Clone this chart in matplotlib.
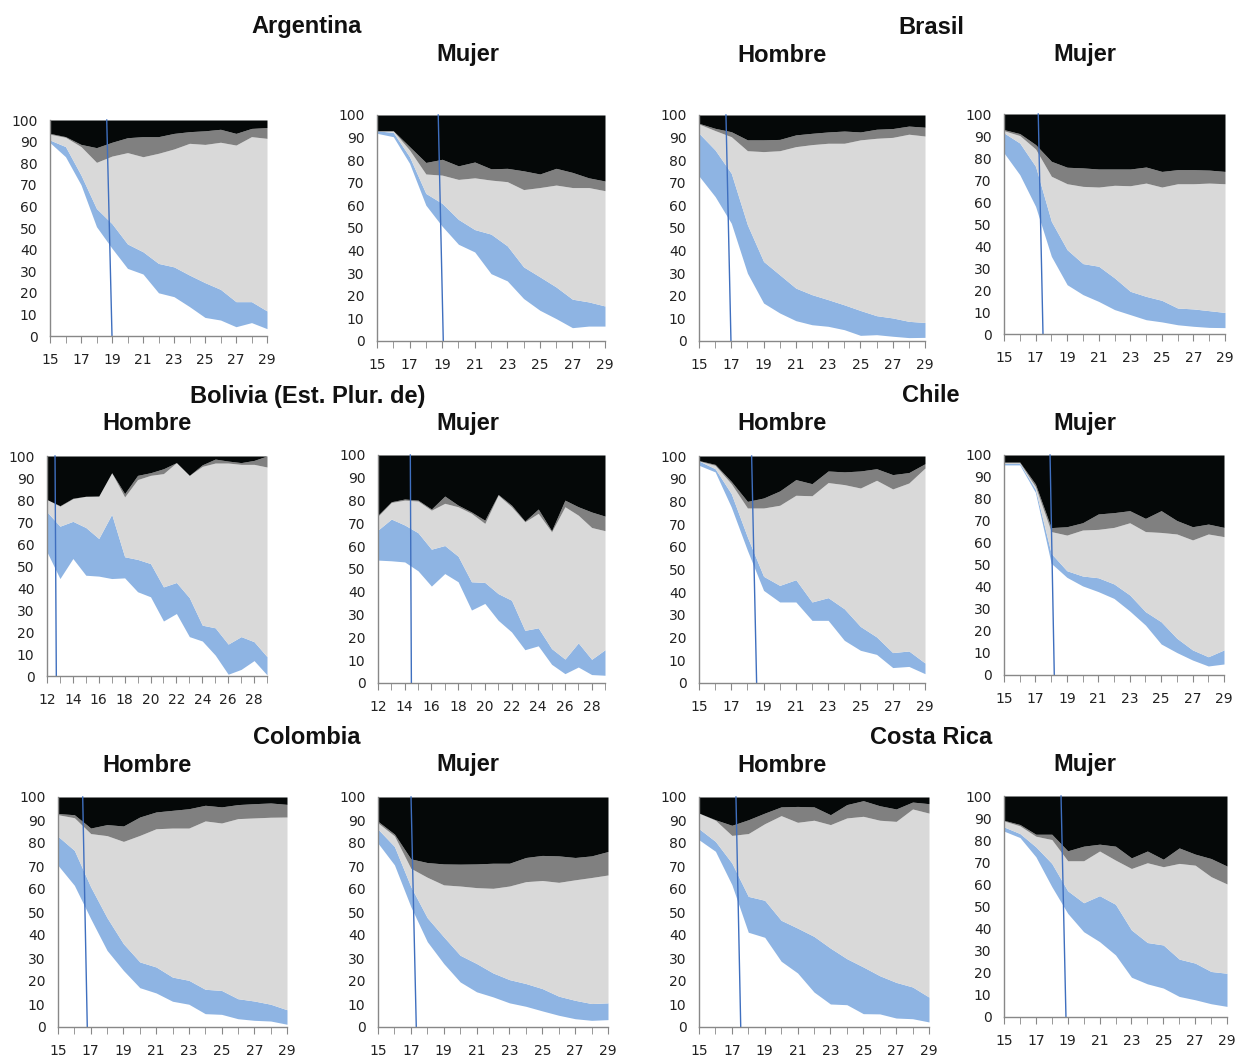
import matplotlib
matplotlib.use("Agg")
import matplotlib.pyplot as plt

# ---------------- data ----------------
ages_15 = list(range(15, 30))
ages_12 = list(range(12, 30))
ticks_15 = [15, 17, 19, 21, 23, 25, 27, 29]
ticks_12 = [12, 14, 16, 18, 20, 22, 24, 26, 28]

# boundaries: b1 = top of white, b2 = top of blue, b3 = top of light gray, b4 = top of dark gray
arg_h_b1 = [89.5, 83, 70, 50.6, 40.6, 31.3, 28.7, 20, 18.2, 13.6, 8.6, 7.4, 4.3, 6.2, 3.4]
arg_h_b2 = [90.7, 87.7, 74.5, 59, 52, 42.6, 39, 33.6, 32, 28.2, 24.7, 21.6, 15.9, 15.9, 11.6]
arg_h_b3 = [93.4, 92, 87.7, 80.4, 83.3, 84.9, 83, 84.6, 86.6, 89.2, 88.7, 89.7, 88.4, 92.3, 91.5]
arg_h_b4 = [93.8, 92.3, 88.7, 87.2, 89.7, 91.8, 92.3, 92.3, 93.8, 94.6, 95, 95.7, 93.8, 96.1, 96.5]

arg_m_b1 = [91.9, 90.4, 78.6, 60.1, 50.8, 42.8, 39.4, 29.8, 26.6, 18.8, 13.6, 9.9, 5.9, 6.6, 6.6]
arg_m_b2 = [93, 92.3, 81.5, 65.3, 60.9, 53.8, 49.3, 47.3, 42.1, 32.8, 28.4, 23.9, 18.5, 17.3, 15.5]
arg_m_b3 = [93, 93, 84.5, 73.9, 73.4, 71.5, 72.2, 71.2, 70.5, 67, 67.9, 69, 67.9, 67.9, 66.5]
arg_m_b4 = [93, 93, 86, 79, 80.4, 77.5, 79.2, 76.2, 76.4, 75.3, 73.9, 76.4, 74.6, 72.2, 70.8]

bra_h_b1 = [73, 63.9, 52.1, 30, 16.8, 12.4, 9, 7.2, 6.5, 5, 2.5, 2.8, 2.1, 1.5, 1.6]
bra_h_b2 = [91.9, 84.5, 74.2, 51.4, 35.2, 29.3, 23.4, 20.5, 18.3, 16, 13.5, 11.2, 10.2, 8.7, 8.2]
bra_h_b3 = [96, 93.1, 90.4, 84.2, 83.8, 84.2, 86, 86.9, 87.5, 87.5, 89, 89.7, 90.1, 91.5, 90.7]
bra_h_b4 = [96.3, 94.1, 92.6, 89, 89, 89.2, 91.2, 91.9, 92.5, 92.9, 92.5, 93.7, 94, 95.1, 94.6]

bra_m_b1 = [82.3, 72.4, 58, 35.3, 22.4, 17.9, 14.8, 11.1, 8.8, 6.5, 5.5, 4.2, 3.5, 3, 2.9]
bra_m_b2 = [91.4, 86.8, 76.2, 51.2, 38.3, 32, 30.8, 25.5, 19.4, 17.1, 15.3, 11.8, 11.4, 10.6, 9.8]
bra_m_b3 = [92.4, 90.2, 84.1, 71.7, 68.3, 67.1, 66.8, 67.6, 67.4, 68.6, 66.8, 68.3, 68.3, 68.6, 68.3]
bra_m_b4 = [92.9, 91.1, 86.1, 78.5, 75.8, 75.5, 75, 75, 75, 75.9, 73.9, 74.7, 74.7, 74.5, 73.9]

bol_h_b1 = [56.4, 44.3, 53.4, 45.8, 45.4, 44.3, 44.6, 38.3, 36, 25, 28.4, 17.9, 15.9, 9.5, 0.8, 3, 7, 0.5]
bol_h_b2 = [74.6, 68.1, 70.3, 67.5, 62.5, 73.5, 54.2, 53, 51.1, 40.5, 42.5, 35.6, 23.1, 21.9, 14.5, 17.9, 15.6, 8.8]
bol_h_b3 = [80.2, 77.2, 80.6, 81.7, 81.8, 92.4, 81.4, 89.3, 91.2, 92, 97, 91.2, 95.3, 96.8, 96.8, 96.2, 96.2, 95]
bol_h_b4 = [80.2, 77.4, 80.8, 81.7, 81.8, 92.4, 82.9, 91.2, 92.4, 94.2, 97, 91.2, 96, 98.6, 97.7, 97, 98, 100]

bol_m_b1 = [53.9, 53.6, 53.1, 49.2, 42.5, 48, 44.4, 32, 34.9, 27.5, 22.4, 14.6, 16.3, 8.2, 4.1, 7, 3.7, 3.4]
bol_m_b2 = [67.1, 71.9, 69.3, 65.9, 58.7, 60.3, 55.6, 44.4, 44.1, 39.2, 36.3, 23.1, 24.2, 15.1, 10.5, 17.6, 10.4, 14.6]
bol_m_b3 = [73.2, 79.2, 80.2, 79.8, 75.8, 78.8, 77.3, 74.4, 70, 82.4, 77.3, 70.7, 74.4, 66.3, 77.3, 73.6, 68.2, 66.8]
bol_m_b4 = [73.6, 79.5, 80.7, 80.2, 76.3, 82, 78, 75, 71.4, 82.7, 78, 71, 76.3, 66.8, 80.2, 77.3, 75, 73.2]

chi_h_b1 = [95.9, 93, 77.5, 58.4, 40.8, 35.7, 35.7, 27.6, 27.6, 18.8, 14.4, 12.6, 6.8, 7.3, 4.1]
chi_h_b2 = [97.8, 94.4, 83.4, 64.3, 47, 43, 45.5, 35.7, 37.6, 32.7, 24.9, 20.3, 13.4, 14.1, 8.8]
chi_h_b3 = [97.8, 95.9, 87.8, 77.1, 77.1, 78.3, 82.7, 82.5, 88.3, 87.4, 85.9, 89.3, 85.5, 88.1, 94.7]
chi_h_b4 = [98, 96.3, 88.8, 80, 81.5, 84.6, 89.6, 87.8, 93.4, 93, 93.4, 94.4, 91.8, 92.7, 96.6]

chi_m_b1 = [95.5, 95.5, 83, 50.8, 44.4, 40.5, 37.9, 34.8, 29.1, 22.7, 14.1, 10.2, 6.8, 4.1, 5]
chi_m_b2 = [96.2, 96.2, 84.4, 55.3, 47.4, 45, 44.2, 41.4, 36.4, 28.8, 24.2, 16.7, 11.4, 8.3, 11.4]
chi_m_b3 = [96.5, 96.5, 85.6, 65.2, 63.6, 65.9, 66.2, 67.1, 69.2, 65.2, 64.8, 64.1, 61.4, 64.1, 62.9]
chi_m_b4 = [96.8, 96.8, 86.8, 67, 67.4, 69.2, 73.2, 73.8, 74.7, 71.2, 74.7, 70.2, 67.4, 68.6, 67.1]

col_h_b1 = [70.3, 61.6, 47.1, 33.3, 24.6, 17.1, 14.8, 11.2, 9.9, 5.8, 5.5, 3.6, 2.9, 2.6, 1.2]
col_h_b2 = [82.9, 76.8, 60.9, 47.5, 36.2, 28.3, 26.1, 21.7, 20.3, 16.4, 15.9, 12.3, 11.3, 9.9, 7.5]
col_h_b3 = [92.3, 91, 84.1, 83.2, 80.7, 83.3, 86.2, 86.5, 86.5, 89.6, 88.7, 90.6, 90.9, 91.2, 91.3]
col_h_b4 = [92.8, 92.3, 86.5, 88, 87.4, 91.3, 93.5, 94.2, 94.9, 96.4, 95.7, 96.7, 97.1, 97.4, 96.8]

col_m_b1 = [79.9, 70.5, 52.3, 37.1, 27.6, 19.6, 15.3, 13.1, 10.5, 9, 7, 5.1, 3.6, 2.9, 3.2]
col_m_b2 = [86, 78.5, 61, 47.5, 39.2, 31.2, 27.6, 23.5, 20.6, 18.9, 16.7, 13.4, 11.6, 10.2, 10.5]
col_m_b3 = [88.7, 83.1, 69, 65.1, 61.8, 61.3, 60.6, 60.3, 61.3, 63.2, 63.7, 62.9, 64, 65, 66.1]
col_m_b4 = [89.4, 83.9, 73.1, 71.5, 70.9, 70.8, 70.9, 71.2, 71.2, 73.7, 74.6, 74.4, 73.7, 74.4, 76.3]

cr_h_b1 = [81.4, 76.4, 61.9, 41.2, 39, 28.6, 23.5, 15.2, 10, 9.7, 5.8, 5.7, 3.9, 3.6, 2.2]
cr_h_b2 = [86.2, 80.7, 71.3, 56.8, 55.1, 46.4, 43, 39.4, 34.3, 29.7, 26.1, 22.3, 19.4, 17.4, 13]
cr_h_b3 = [93, 89.9, 83.3, 84.1, 88.4, 91.9, 89, 89.9, 88, 90.9, 91.6, 89.9, 89.4, 94.8, 93]
cr_h_b4 = [93, 90.1, 87.7, 90.1, 93, 95.7, 95.9, 95.7, 92.3, 96.7, 98.4, 96.2, 94.8, 97.8, 97.1]

cr_m_b1 = [84.1, 81.2, 72.5, 59, 46.9, 38.6, 34.1, 28.1, 18, 15, 13.1, 9.3, 7.8, 6, 4.8]
cr_m_b2 = [86, 83, 77, 69.5, 57.1, 51.7, 54.9, 51, 39.4, 33.7, 32.6, 26.2, 24.4, 20.6, 19.8]
cr_m_b3 = [88.7, 86.5, 81.8, 80.3, 70.7, 70.7, 75.1, 71, 67.2, 69.8, 68, 69.5, 68.7, 63.5, 60.2]
cr_m_b4 = [89, 87.1, 82.7, 82.7, 75.2, 77.3, 78.2, 77.3, 72, 75.1, 71.4, 76.5, 73.7, 71.7, 68.3]

# reference line: (age at top, age at bottom)
lines = {
    "arg_h": (18.66, 19.0), "arg_m": (18.76, 19.07),
    "bra_h": (16.67, 16.98), "bra_m": (17.17, 17.47),
    "bol_h": (12.62, 12.72), "bol_m": (14.42, 14.5),
    "chi_h": (18.26, 18.57), "chi_m": (17.93, 18.2),
    "col_h": (16.51, 16.79), "col_m": (17.01, 17.33),
    "cr_h": (17.25, 17.54), "cr_m": (18.58, 18.89),
}

# ---------------- drawing ----------------
W, H = 1235, 1057
fig = plt.figure(figsize=(W / 100, H / 100), dpi=100)
fig.patch.set_facecolor("white")

BLUE = "#8EB4E3"
LGRAY = "#D9D9D9"
DGRAY = "#808080"
BLACK = "#050808"
LINEC = "#3F6FBF"
TICKFONT = "DejaVu Sans"


def add_panel(rect, ages, b1, b2, b3, b4, line, ticks):
    l, t, r, b = rect
    ax = fig.add_axes([l / W, 1 - b / H, (r - l) / W, (b - t) / H])
    top = [100] * len(ages)
    ax.fill_between(ages, b1, b2, color=BLUE, lw=0)
    ax.fill_between(ages, b2, b3, color=LGRAY, lw=0)
    ax.fill_between(ages, b3, b4, color=DGRAY, lw=0)
    ax.fill_between(ages, b4, top, color=BLACK, lw=0)
    ax.plot([line[0], line[1]], [100, 0], color=LINEC, lw=1.0, clip_on=False)
    ax.set_xlim(ages[0], ages[-1])
    ax.set_ylim(0, 100)
    ax.set_yticks(range(0, 101, 10))
    ax.set_xticks(ages, minor=True)
    ax.set_xticks(ticks)
    ax.tick_params(axis="y", length=0, pad=9, labelsize=10, labelcolor="#222222")
    ax.tick_params(axis="x", which="both", length=5, direction="out", color="#888888",
                   pad=7, labelsize=10, labelcolor="#222222")
    for lab in ax.get_xticklabels() + ax.get_yticklabels():
        lab.set_fontfamily(TICKFONT)
    for s in ("top", "right"):
        ax.spines[s].set_visible(False)
    for s in ("left", "bottom"):
        ax.spines[s].set_color("#888888")
        ax.spines[s].set_linewidth(1.0)
    ax.set_facecolor("white")
    return ax


add_panel((50, 120, 267, 336), ages_15, arg_h_b1, arg_h_b2, arg_h_b3, arg_h_b4, lines["arg_h"], ticks_15)
add_panel((377, 115, 605, 341), ages_15, arg_m_b1, arg_m_b2, arg_m_b3, arg_m_b4, lines["arg_m"], ticks_15)
add_panel((699, 115, 925, 341), ages_15, bra_h_b1, bra_h_b2, bra_h_b3, bra_h_b4, lines["bra_h"], ticks_15)
add_panel((1004, 114, 1225, 334), ages_15, bra_m_b1, bra_m_b2, bra_m_b3, bra_m_b4, lines["bra_m"], ticks_15)
add_panel((47, 456, 267, 676), ages_12, bol_h_b1, bol_h_b2, bol_h_b3, bol_h_b4, lines["bol_h"], ticks_12)
add_panel((378, 455, 605, 683), ages_12, bol_m_b1, bol_m_b2, bol_m_b3, bol_m_b4, lines["bol_m"], ticks_12)
add_panel((699, 456, 925, 683), ages_15, chi_h_b1, chi_h_b2, chi_h_b3, chi_h_b4, lines["chi_h"], ticks_15)
add_panel((1004, 455, 1224, 675), ages_15, chi_m_b1, chi_m_b2, chi_m_b3, chi_m_b4, lines["chi_m"], ticks_15)
add_panel((58, 797, 287, 1027), ages_15, col_h_b1, col_h_b2, col_h_b3, col_h_b4, lines["col_h"], ticks_15)
add_panel((378, 797, 608, 1027), ages_15, col_m_b1, col_m_b2, col_m_b3, col_m_b4, lines["col_m"], ticks_15)
add_panel((699, 797, 929, 1027), ages_15, cr_h_b1, cr_h_b2, cr_h_b3, cr_h_b4, lines["cr_h"], ticks_15)
add_panel((1004, 796, 1227, 1017), ages_15, cr_m_b1, cr_m_b2, cr_m_b3, cr_m_b4, lines["cr_m"], ticks_15)

titles = [
    ("Argentina", 307, 27), ("Mujer", 468, 55),
    ("Brasil", 931, 27), ("Hombre", 782, 55), ("Mujer", 1085, 55),
    ("Bolivia (Est. Plur. de)", 308, 396), ("Hombre", 147, 424), ("Mujer", 468, 424),
    ("Chile", 931, 396), ("Hombre", 782, 424), ("Mujer", 1085, 424),
    ("Colombia", 307, 737), ("Hombre", 147, 765), ("Mujer", 468, 765),
    ("Costa Rica", 931, 737), ("Hombre", 782, 765), ("Mujer", 1085, 765),
]
for txt, x, y in titles:
    fig.text(x / W, 1 - y / H, txt, ha="center", va="center", fontsize=17,
             fontweight="bold", family="Liberation Sans", color="#111111")

fig.savefig("out.png", dpi=100, facecolor="white")
